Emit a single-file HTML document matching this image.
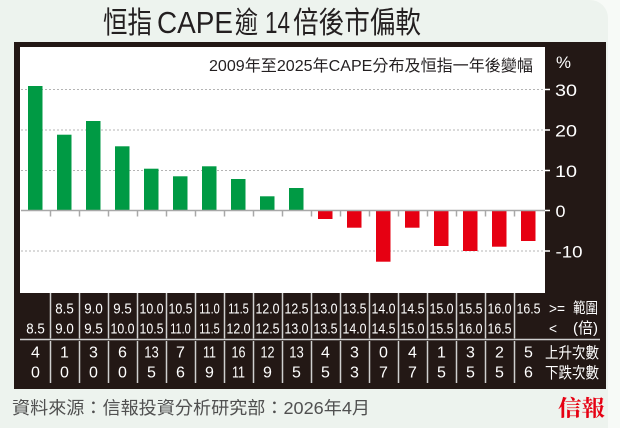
<!DOCTYPE html>
<html><head><meta charset="utf-8"><style>
html,body{margin:0;padding:0;background:#f7faf7;}
svg{display:block;}
.s{font-family:"Liberation Sans","Noto Sans CJK TC",sans-serif;}
</style></head><body>
<svg width="620" height="428" viewBox="0 0 620 428" xmlns="http://www.w3.org/2000/svg" class="s">
<rect x="0" y="0" width="620" height="428" fill="#f7faf7"/>
<path d="M0 0 H590 A18 18 0 0 1 608 18 V428 H0 Z" fill="#edf3ee"/>
<!-- title -->
<g fill="#231f20">
<text x="103" y="33" font-size="30" textLength="49" lengthAdjust="spacingAndGlyphs" font-family="Noto Sans CJK TC, sans-serif">恒指</text>
<text x="157" y="33" font-size="31" textLength="76" lengthAdjust="spacingAndGlyphs">CAPE</text>
<text x="235" y="33" font-size="30" textLength="23" lengthAdjust="spacingAndGlyphs" font-family="Noto Sans CJK TC, sans-serif">逾</text>
<text x="265" y="33" font-size="31" textLength="25" lengthAdjust="spacingAndGlyphs">14</text>
<text x="293" y="33" font-size="30" textLength="128" lengthAdjust="spacingAndGlyphs" font-family="Noto Sans CJK TC, sans-serif">倍後市偏軟</text>
</g>
<!-- frame -->
<rect x="14" y="42" width="592" height="347" fill="#231815"/>
<rect x="20" y="47" width="525" height="246" fill="#ffffff"/>
<text x="209" y="71" font-size="16" fill="#231f20" textLength="324" lengthAdjust="spacingAndGlyphs">2009年至2025年CAPE分布及恒指一年後變幅</text>
<!-- grid -->
<g stroke="#b4b4b4" stroke-width="1" stroke-dasharray="2,2">
<line x1="21" y1="89.5" x2="545" y2="89.5"/>
<line x1="21" y1="130" x2="545" y2="130"/>
<line x1="21" y1="170.5" x2="545" y2="170.5"/>
<line x1="21" y1="251" x2="545" y2="251"/>
</g>
<!-- bars -->
<g fill="#009a44">
<rect x="28" y="86" width="14.5" height="124.5"/>
<rect x="57" y="134.7" width="14.5" height="75.8"/>
<rect x="86" y="121" width="14.5" height="89.5"/>
<rect x="115" y="146.3" width="14.5" height="64.2"/>
<rect x="144" y="168.7" width="14.5" height="41.8"/>
<rect x="173" y="176.3" width="14.5" height="34.2"/>
<rect x="202" y="166.3" width="14.5" height="44.2"/>
<rect x="231" y="179" width="14.5" height="31.5"/>
<rect x="260" y="196.3" width="14.5" height="14.2"/>
<rect x="289" y="188" width="14.5" height="22.5"/>
</g>
<g fill="#e60012">
<rect x="318" y="210.5" width="14.5" height="8.5"/>
<rect x="347" y="210.5" width="14.5" height="17.2"/>
<rect x="376" y="210.5" width="14.5" height="51.2"/>
<rect x="405" y="210.5" width="14.5" height="17.2"/>
<rect x="434" y="210.5" width="14.5" height="35.5"/>
<rect x="463" y="210.5" width="14.5" height="40.5"/>
<rect x="492" y="210.5" width="14.5" height="36.2"/>
<rect x="521" y="210.5" width="14.5" height="30.5"/>
</g>
<!-- zero axis & ticks -->
<g stroke="#a8a8a8" stroke-width="1.5">
<line x1="21" y1="210.5" x2="545" y2="210.5"/>
<line x1="50.5" y1="210.5" x2="50.5" y2="216.5"/>
<line x1="79.5" y1="210.5" x2="79.5" y2="216.5"/>
<line x1="108.5" y1="210.5" x2="108.5" y2="216.5"/>
<line x1="137.5" y1="210.5" x2="137.5" y2="216.5"/>
<line x1="166.5" y1="210.5" x2="166.5" y2="216.5"/>
<line x1="195.5" y1="210.5" x2="195.5" y2="216.5"/>
<line x1="224.5" y1="210.5" x2="224.5" y2="216.5"/>
<line x1="253.5" y1="210.5" x2="253.5" y2="216.5"/>
<line x1="282.5" y1="210.5" x2="282.5" y2="216.5"/>
<line x1="311.5" y1="210.5" x2="311.5" y2="216.5"/>
<line x1="340.5" y1="210.5" x2="340.5" y2="216.5"/>
<line x1="369.5" y1="210.5" x2="369.5" y2="216.5"/>
<line x1="398.5" y1="210.5" x2="398.5" y2="216.5"/>
<line x1="427.5" y1="210.5" x2="427.5" y2="216.5"/>
<line x1="456.5" y1="210.5" x2="456.5" y2="216.5"/>
<line x1="485.5" y1="210.5" x2="485.5" y2="216.5"/>
<line x1="514.5" y1="210.5" x2="514.5" y2="216.5"/>
</g>
<!-- y axis labels -->
<g stroke="#ffffff" stroke-width="1.5">
<line x1="545" y1="89.5" x2="550" y2="89.5"/>
<line x1="545" y1="130" x2="550" y2="130"/>
<line x1="545" y1="170.5" x2="550" y2="170.5"/>
<line x1="545" y1="210.5" x2="550" y2="210.5"/>
<line x1="545" y1="251" x2="550" y2="251"/>
</g>
<g fill="#ffffff" font-size="17">
<text x="556" y="68" textLength="15" lengthAdjust="spacingAndGlyphs">%</text>
<text x="555" y="96" textLength="22" lengthAdjust="spacingAndGlyphs">30</text>
<text x="555" y="136.5" textLength="22" lengthAdjust="spacingAndGlyphs">20</text>
<text x="555" y="177" textLength="22" lengthAdjust="spacingAndGlyphs">10</text>
<text x="555.5" y="217" textLength="10" lengthAdjust="spacingAndGlyphs">0</text>
<text x="555.5" y="257.5" textLength="27" lengthAdjust="spacingAndGlyphs">-10</text>
</g>
<!-- table lines -->
<line x1="20" y1="339.5" x2="600" y2="339.5" stroke="#cfcfcf" stroke-width="1.5"/>
<g stroke="#cfcfcf" stroke-width="1.5">
<line x1="50.5" y1="293" x2="50.5" y2="338.5"/><line x1="50.5" y1="341" x2="50.5" y2="383"/>
<line x1="79.5" y1="293" x2="79.5" y2="338.5"/><line x1="79.5" y1="341" x2="79.5" y2="383"/>
<line x1="108.5" y1="293" x2="108.5" y2="338.5"/><line x1="108.5" y1="341" x2="108.5" y2="383"/>
<line x1="137.5" y1="293" x2="137.5" y2="338.5"/><line x1="137.5" y1="341" x2="137.5" y2="383"/>
<line x1="166.5" y1="293" x2="166.5" y2="338.5"/><line x1="166.5" y1="341" x2="166.5" y2="383"/>
<line x1="195.5" y1="293" x2="195.5" y2="338.5"/><line x1="195.5" y1="341" x2="195.5" y2="383"/>
<line x1="224.5" y1="293" x2="224.5" y2="338.5"/><line x1="224.5" y1="341" x2="224.5" y2="383"/>
<line x1="253.5" y1="293" x2="253.5" y2="338.5"/><line x1="253.5" y1="341" x2="253.5" y2="383"/>
<line x1="282.5" y1="293" x2="282.5" y2="338.5"/><line x1="282.5" y1="341" x2="282.5" y2="383"/>
<line x1="311.5" y1="293" x2="311.5" y2="338.5"/><line x1="311.5" y1="341" x2="311.5" y2="383"/>
<line x1="340.5" y1="293" x2="340.5" y2="338.5"/><line x1="340.5" y1="341" x2="340.5" y2="383"/>
<line x1="369.5" y1="293" x2="369.5" y2="338.5"/><line x1="369.5" y1="341" x2="369.5" y2="383"/>
<line x1="398.5" y1="293" x2="398.5" y2="338.5"/><line x1="398.5" y1="341" x2="398.5" y2="383"/>
<line x1="427.5" y1="293" x2="427.5" y2="338.5"/><line x1="427.5" y1="341" x2="427.5" y2="383"/>
<line x1="456.5" y1="293" x2="456.5" y2="338.5"/><line x1="456.5" y1="341" x2="456.5" y2="383"/>
<line x1="485.5" y1="293" x2="485.5" y2="338.5"/><line x1="485.5" y1="341" x2="485.5" y2="383"/>
<line x1="514.5" y1="293" x2="514.5" y2="338.5"/><line x1="514.5" y1="341" x2="514.5" y2="383"/>
</g>
<!-- range rows -->
<g fill="#ffffff" font-size="15">
<text x="26.25" y="333.5" textLength="18.5" lengthAdjust="spacingAndGlyphs">8.5</text>
<text x="55.25" y="313.5" textLength="18.5" lengthAdjust="spacingAndGlyphs">8.5</text>
<text x="55.25" y="333.5" textLength="18.5" lengthAdjust="spacingAndGlyphs">9.0</text>
<text x="84.25" y="313.5" textLength="18.5" lengthAdjust="spacingAndGlyphs">9.0</text>
<text x="84.25" y="333.5" textLength="18.5" lengthAdjust="spacingAndGlyphs">9.5</text>
<text x="113.25" y="313.5" textLength="18.5" lengthAdjust="spacingAndGlyphs">9.5</text>
<text x="110.5" y="333.5" textLength="24" lengthAdjust="spacingAndGlyphs">10.0</text>
<text x="139.5" y="313.5" textLength="24" lengthAdjust="spacingAndGlyphs">10.0</text>
<text x="139.5" y="333.5" textLength="24" lengthAdjust="spacingAndGlyphs">10.5</text>
<text x="168.5" y="313.5" textLength="24" lengthAdjust="spacingAndGlyphs">10.5</text>
<text x="170.25" y="333.5" textLength="20.5" lengthAdjust="spacingAndGlyphs">11.0</text>
<text x="199.25" y="313.5" textLength="20.5" lengthAdjust="spacingAndGlyphs">11.0</text>
<text x="199.25" y="333.5" textLength="20.5" lengthAdjust="spacingAndGlyphs">11.5</text>
<text x="228.25" y="313.5" textLength="20.5" lengthAdjust="spacingAndGlyphs">11.5</text>
<text x="226.5" y="333.5" textLength="24" lengthAdjust="spacingAndGlyphs">12.0</text>
<text x="255.5" y="313.5" textLength="24" lengthAdjust="spacingAndGlyphs">12.0</text>
<text x="255.5" y="333.5" textLength="24" lengthAdjust="spacingAndGlyphs">12.5</text>
<text x="284.5" y="313.5" textLength="24" lengthAdjust="spacingAndGlyphs">12.5</text>
<text x="284.5" y="333.5" textLength="24" lengthAdjust="spacingAndGlyphs">13.0</text>
<text x="313.5" y="313.5" textLength="24" lengthAdjust="spacingAndGlyphs">13.0</text>
<text x="313.5" y="333.5" textLength="24" lengthAdjust="spacingAndGlyphs">13.5</text>
<text x="342.5" y="313.5" textLength="24" lengthAdjust="spacingAndGlyphs">13.5</text>
<text x="342.5" y="333.5" textLength="24" lengthAdjust="spacingAndGlyphs">14.0</text>
<text x="371.5" y="313.5" textLength="24" lengthAdjust="spacingAndGlyphs">14.0</text>
<text x="371.5" y="333.5" textLength="24" lengthAdjust="spacingAndGlyphs">14.5</text>
<text x="400.5" y="313.5" textLength="24" lengthAdjust="spacingAndGlyphs">14.5</text>
<text x="400.5" y="333.5" textLength="24" lengthAdjust="spacingAndGlyphs">15.0</text>
<text x="429.5" y="313.5" textLength="24" lengthAdjust="spacingAndGlyphs">15.0</text>
<text x="429.5" y="333.5" textLength="24" lengthAdjust="spacingAndGlyphs">15.5</text>
<text x="458.5" y="313.5" textLength="24" lengthAdjust="spacingAndGlyphs">15.5</text>
<text x="458.5" y="333.5" textLength="24" lengthAdjust="spacingAndGlyphs">16.0</text>
<text x="487.5" y="313.5" textLength="24" lengthAdjust="spacingAndGlyphs">16.0</text>
<text x="487.5" y="333.5" textLength="24" lengthAdjust="spacingAndGlyphs">16.5</text>
<text x="516.5" y="313.5" textLength="24" lengthAdjust="spacingAndGlyphs">16.5</text>
<text x="549" y="313.5" textLength="16" lengthAdjust="spacingAndGlyphs">&gt;=</text>
<text x="549" y="333.5" textLength="8" lengthAdjust="spacingAndGlyphs">&lt;</text>
<text x="573" y="313" textLength="25" lengthAdjust="spacingAndGlyphs">範圍</text>
<text x="573" y="333" textLength="25" lengthAdjust="spacingAndGlyphs">(倍)</text>
</g>
<!-- counts -->
<g fill="#ffffff" font-size="16" text-anchor="middle">
<text x="35.5" y="357.5">4</text><text x="35.5" y="377.5">0</text>
<text x="64.5" y="357.5">1</text><text x="64.5" y="377.5">0</text>
<text x="93.5" y="357.5">3</text><text x="93.5" y="377.5">0</text>
<text x="122.5" y="357.5">6</text><text x="122.5" y="377.5">0</text>
<text x="151.5" y="357.5" textLength="14.5" lengthAdjust="spacingAndGlyphs">13</text><text x="151.5" y="377.5">5</text>
<text x="180.5" y="357.5">7</text><text x="180.5" y="377.5">6</text>
<text x="209.5" y="357.5" textLength="13" lengthAdjust="spacingAndGlyphs">11</text><text x="209.5" y="377.5">9</text>
<text x="238.5" y="357.5" textLength="14" lengthAdjust="spacingAndGlyphs">16</text><text x="238.5" y="377.5" textLength="13" lengthAdjust="spacingAndGlyphs">11</text>
<text x="267.5" y="357.5" textLength="14" lengthAdjust="spacingAndGlyphs">12</text><text x="267.5" y="377.5">9</text>
<text x="296.5" y="357.5" textLength="14.5" lengthAdjust="spacingAndGlyphs">13</text><text x="296.5" y="377.5">5</text>
<text x="325.5" y="357.5">4</text><text x="325.5" y="377.5">5</text>
<text x="354.5" y="357.5">3</text><text x="354.5" y="377.5">3</text>
<text x="383.5" y="357.5">0</text><text x="383.5" y="377.5">7</text>
<text x="412.5" y="357.5">4</text><text x="412.5" y="377.5">7</text>
<text x="441.5" y="357.5">1</text><text x="441.5" y="377.5">5</text>
<text x="470.5" y="357.5">3</text><text x="470.5" y="377.5">5</text>
<text x="499.5" y="357.5">2</text><text x="499.5" y="377.5">5</text>
<text x="528.5" y="357.5">5</text><text x="528.5" y="377.5">6</text>
</g>
<g fill="#ffffff" font-size="15.5">
<text x="545" y="358" textLength="54" lengthAdjust="spacingAndGlyphs">上升次數</text>
<text x="545" y="378" textLength="54" lengthAdjust="spacingAndGlyphs">下跌次數</text>
</g>
<!-- footer -->
<text x="12" y="414" font-size="17.5" fill="#505050" textLength="358" lengthAdjust="spacingAndGlyphs">資料來源：信報投資分析研究部：2026年4月</text>
<text x="558" y="416" font-size="22" font-weight="bold" fill="#e60012" textLength="47" lengthAdjust="spacingAndGlyphs" font-family="Noto Serif CJK SC, Noto Serif CJK TC, serif">信報</text>
</svg>
</body></html>
